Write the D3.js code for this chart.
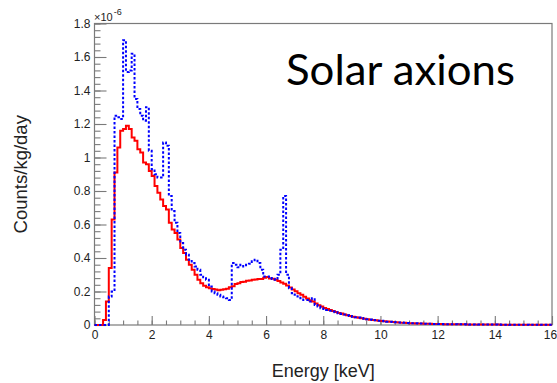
<!DOCTYPE html>
<html>
<head>
<meta charset="utf-8">
<script src="https://cdn.jsdelivr.net/npm/d3@7/dist/d3.min.js"></script>
<style>
  html, body { margin: 0; padding: 0; background: #fff; }
  svg { display: block; }
</style>
</head>
<body>
<svg id="chart" width="557" height="383"></svg>
<script>
// Energy histogram: 160 bins of 0.1 keV from 0 to 16 keV, counts in units of 1e-6 counts/kg/day
const energyRange = [0, 16];
const binWidth = 0.1;

// Solid red spectrum
const redCounts = [
  0, 0, 0, 0.03, 0.14, 0.34, 0.63, 0.91, 1.06, 1.16,
  1.17, 1.19, 1.17, 1.12, 1.10, 1.05, 1.03, 0.97, 0.96, 0.92,
  0.89, 0.83, 0.79, 0.75, 0.71, 0.69, 0.61, 0.57, 0.55, 0.51,
  0.46, 0.43, 0.39, 0.36, 0.33, 0.30, 0.27, 0.25, 0.235, 0.225,
  0.22, 0.215, 0.212, 0.208, 0.21, 0.214, 0.216, 0.225, 0.232, 0.245,
  0.25, 0.256, 0.258, 0.264, 0.266, 0.27, 0.272, 0.274, 0.275, 0.282,
  0.287, 0.278, 0.276, 0.27, 0.262, 0.254, 0.246, 0.236, 0.224, 0.212,
  0.202, 0.19, 0.18, 0.168, 0.158, 0.148, 0.14, 0.128, 0.118, 0.11,
  0.102, 0.095, 0.089, 0.083, 0.078, 0.072, 0.068, 0.063, 0.058, 0.054,
  0.05, 0.047, 0.044, 0.041, 0.038, 0.035, 0.032, 0.03, 0.028, 0.026,
  0.024, 0.022, 0.021, 0.019, 0.018, 0.016, 0.015, 0.014, 0.013, 0.012,
  0.011, 0.010, 0.0095, 0.009, 0.0085, 0.008, 0.0075, 0.007, 0.0065, 0.006,
  0.0058, 0.0055, 0.0052, 0.005, 0.0048, 0.0046, 0.0044, 0.0042, 0.004, 0.0038,
  0.0036, 0.0035, 0.0033, 0.0032, 0.003, 0.0029, 0.0028, 0.0027, 0.0026, 0.0025,
  0.0024, 0.0023, 0.0022, 0.0021, 0.002, 0.0019, 0.0019, 0.0018, 0.0017, 0.0017,
  0.0016, 0.0016, 0.0015, 0.0015, 0.0014, 0.0014, 0.0013, 0.0013, 0.0012, 0.0012
];

// Dotted blue spectrum
const blueCounts = [
  0, 0, 0, 0, 0, 0.17, 0.20, 1.25, 1.24, 1.23,
  1.70, 1.51, 1.52, 1.62, 1.35, 1.29, 1.25, 1.22, 1.30, 1.04,
  0.93, 0.90, 0.88, 0.88, 1.09, 1.07, 0.77, 0.68, 0.61, 0.55,
  0.49, 0.45, 0.42, 0.39, 0.37, 0.35, 0.33, 0.30, 0.285, 0.27,
  0.23, 0.20, 0.19, 0.18, 0.17, 0.165, 0.16, 0.15, 0.37, 0.36,
  0.345, 0.36, 0.35, 0.36, 0.365, 0.38, 0.39, 0.37, 0.33, 0.29,
  0.29, 0.28, 0.275, 0.27, 0.30, 0.45, 0.77, 0.30, 0.22, 0.19,
  0.18, 0.17, 0.16, 0.15, 0.15, 0.14, 0.16, 0.12, 0.11, 0.10,
  0.095, 0.09, 0.085, 0.08, 0.076, 0.07, 0.066, 0.062, 0.058, 0.054,
  0.05, 0.047, 0.045, 0.042, 0.038, 0.035, 0.033, 0.03, 0.028, 0.026,
  0.025, 0.023, 0.02, 0.019, 0.018, 0.016, 0.015, 0.015, 0.013, 0.012,
  0.011, 0.011, 0.01, 0.009, 0.009, 0.008, 0.007, 0.007, 0.006, 0.006,
  0.0058, 0.0056, 0.0052, 0.0051, 0.0048, 0.0045, 0.0044, 0.0041, 0.004, 0.0038,
  0.0037, 0.0035, 0.0034, 0.0032, 0.0031, 0.0029, 0.0028, 0.0027, 0.0026, 0.0025,
  0.0024, 0.0023, 0.0022, 0.0021, 0.0021, 0.002, 0.0019, 0.0018, 0.0018, 0.0017,
  0.0016, 0.0016, 0.0015, 0.0015, 0.0014, 0.0014, 0.0013, 0.0013, 0.0012, 0.0012
];

// Axis ticks
const xMajorTicks = [0, 2, 4, 6, 8, 10, 12, 14, 16];
const xTickLabels = ["0", "2", "4", "6", "8", "10", "12", "14", "16"];
const yMajorTicks = [0, 0.2, 0.4, 0.6, 0.8, 1.0, 1.2, 1.4, 1.6, 1.8];
const yTickLabels = ["0", "0.2", "0.4", "0.6", "0.8", "1", "1.2", "1.4", "1.6", "1.8"];
const xMinorStep = 0.5;
const yMinorStep = 0.04;

const xTitle = "Energy [keV]";
const yTitle = "Counts/kg/day";
const yExponent = "-6";
const panelLabel = "Solar axions";

// ---- drawing ----
const svg = d3.select("#chart");
const plot = { left: 94.5, right: 552, top: 23.5, bottom: 325 };
const axisColor = "#7a7a7a";
const textColor = "#222";
const tickFont = "Liberation Sans, Arial, Helvetica, sans-serif";
const width = +svg.attr("width");

const x = d3.scaleLinear().domain(energyRange).range([plot.left, plot.right]);
const y = d3.scaleLinear().domain([0, 1.8]).range([plot.bottom, plot.top]);

// minor ticks
const xMinor = d3.range(energyRange[0], energyRange[1] + 1e-9, xMinorStep);
const yMinor = d3.range(0, 1.8 + 1e-9, yMinorStep);

const gxMinor = svg.append("g")
  .attr("transform", `translate(0,${plot.bottom})`)
  .call(d3.axisBottom(x).tickValues(xMinor).tickSize(-4.5).tickSizeOuter(0).tickFormat(""));
const gyMinor = svg.append("g")
  .attr("transform", `translate(${plot.left},0)`)
  .call(d3.axisLeft(y).tickValues(yMinor).tickSize(-6).tickSizeOuter(0).tickFormat(""));

const gx = svg.append("g")
  .attr("transform", `translate(0,${plot.bottom})`)
  .call(d3.axisBottom(x).tickValues(xMajorTicks).tickSize(-9).tickSizeOuter(0).tickPadding(5.5)
    .tickFormat((d, i) => xTickLabels[i]));
const gy = svg.append("g")
  .attr("transform", `translate(${plot.left},0)`)
  .call(d3.axisLeft(y).tickValues(yMajorTicks).tickSize(-12).tickSizeOuter(0).tickPadding(4)
    .tickFormat((d, i) => yTickLabels[i]));

[gxMinor, gyMinor, gx, gy].forEach(g => {
  g.select(".domain").remove();
  g.selectAll(".tick line").attr("stroke", axisColor).attr("stroke-width", 1.1);
  g.selectAll(".tick text")
    .attr("fill", textColor)
    .attr("font-family", tickFont)
    .attr("font-size", 12);
});

// keep the last x label inside the page edge
gx.selectAll(".tick text").each(function (d) {
  const bb = this.getBBox();
  const right = x(d) + bb.x + bb.width;
  if (right > width) d3.select(this).attr("x", width - right);
});

// frame
svg.append("rect")
  .attr("x", plot.left).attr("y", plot.top)
  .attr("width", plot.right - plot.left).attr("height", plot.bottom - plot.top)
  .attr("fill", "none").attr("stroke", axisColor).attr("stroke-width", 1.2);

// histograms
function histPoints(counts) {
  const pts = counts.map((v, i) => [energyRange[0] + i * binWidth, v]);
  pts.push([energyRange[0] + counts.length * binWidth, counts[counts.length - 1]]);
  return pts;
}
const stepLine = d3.line()
  .x(d => x(d[0]))
  .y(d => y(d[1]))
  .curve(d3.curveStepAfter);

svg.append("path")
  .datum(histPoints(redCounts))
  .attr("d", stepLine)
  .attr("fill", "none")
  .attr("stroke", "#ff0000")
  .attr("stroke-width", 2)
  .attr("stroke-linejoin", "miter");

svg.append("path")
  .datum(histPoints(blueCounts))
  .attr("d", stepLine)
  .attr("fill", "none")
  .attr("stroke", "#0000ff")
  .attr("stroke-width", 2)
  .attr("stroke-dasharray", "2.5,2");

// exponent above y axis
const expText = svg.append("text")
  .attr("x", plot.left - 0.5).attr("y", 21)
  .attr("font-family", tickFont).attr("font-size", 11)
  .attr("fill", textColor)
  .text("×10");
expText.append("tspan")
  .attr("dy", -6.5).attr("dx", 1)
  .attr("font-size", 9)
  .text(yExponent);

// axis titles
svg.append("text")
  .attr("x", (plot.left + plot.right) / 2).attr("y", 377)
  .attr("text-anchor", "middle")
  .attr("font-family", tickFont).attr("font-size", 18)
  .attr("fill", textColor)
  .text(xTitle);

svg.append("text")
  .attr("transform", `translate(26.5,${(plot.top + plot.bottom) / 2}) rotate(-90)`)
  .attr("text-anchor", "middle")
  .attr("font-family", tickFont).attr("font-size", 18.5)
  .attr("fill", textColor)
  .text(yTitle);

// panel label
svg.append("text")
  .attr("x", 286).attr("y", 85)
  .attr("font-family", "Lato, 'Open Sans', sans-serif")
  .attr("font-size", 43)
  .attr("textLength", 229)
  .attr("lengthAdjust", "spacingAndGlyphs")
  .attr("fill", "#000")
  .text(panelLabel);
</script>
</body>
</html>
